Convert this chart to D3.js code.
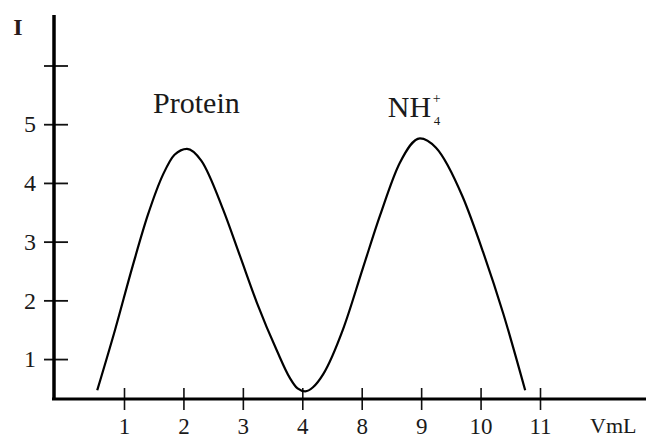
<!DOCTYPE html>
<html>
<head>
<meta charset="utf-8">
<script src="https://cdn.jsdelivr.net/npm/d3@7"></script>
<style>
  body { margin: 0; background: #fff; }
  text { font-family: "Liberation Serif", "Times New Roman", serif; fill: #1a1a1a; }
</style>
</head>
<body>
<div id="chart"></div>
<script>
// tick labels on the x axis (elution volume, not evenly valued)
var xLabels = ["1", "2", "3", "4", "8", "9", "10", "11"];
var yTicks = [1, 2, 3, 4, 5, 6];
var yLabels = ["1", "2", "3", "4", "5", ""];

// curve: position along the x ticks (1 = first tick) and intensity
var curvePos = [0.55, 0.85, 1.15, 1.40, 1.66, 1.85, 2.06, 2.30, 2.67, 2.95, 3.24, 3.57, 3.79, 3.92, 4.05, 4.18,
                4.35, 4.69, 5.02, 5.31, 5.64, 5.98, 6.25, 6.70, 7.04, 7.38, 7.75];
var curveVal = [0.47, 1.50, 2.60, 3.45, 4.15, 4.48, 4.58, 4.38, 3.54, 2.76, 1.95, 1.15, 0.68, 0.50, 0.45, 0.52,
                0.74, 1.52, 2.55, 3.45, 4.34, 4.76, 4.60, 3.76, 2.83, 1.78, 0.47];

var width = 646, height = 438;

var svg = d3.select("#chart").append("svg")
    .attr("width", width)
    .attr("height", height);

// scales
var x = d3.scaleLinear().domain([1, 8]).range([124, 540]);
var y = d3.scaleLinear().domain([0.32, 6.86]).range([399, 15]);

var axisX = 54, axisY = y(0.32);

// x axis
var gx = svg.append("g")
    .attr("transform", "translate(0," + axisY + ")")
    .call(d3.axisBottom(x)
      .tickValues(d3.range(1, xLabels.length + 1))
      .tickFormat(function(d, i) { return xLabels[i]; })
      .tickSize(11)
      .tickPadding(11));
gx.select(".domain").remove();
gx.selectAll(".tick line")
    .attr("y1", -11).attr("y2", 11)
    .attr("stroke", "#111").attr("stroke-width", 1.6);
gx.selectAll(".tick text")
    .attr("font-size", 23)
    .attr("font-family", "Liberation Serif, serif")
    .attr("fill", "#1a1a1a")
    .attr("dy", "0.55em");

svg.append("line")
    .attr("x1", axisX - 2).attr("x2", width)
    .attr("y1", axisY).attr("y2", axisY)
    .attr("stroke", "#000").attr("stroke-width", 3);

// y axis
var gy = svg.append("g")
    .attr("transform", "translate(" + axisX + ",0)")
    .call(d3.axisLeft(y)
      .tickValues(yTicks)
      .tickFormat(function(d, i) { return yLabels[i]; })
      .tickSize(10)
      .tickPadding(8));
gy.select(".domain").remove();
gy.selectAll(".tick line")
    .attr("x1", -10).attr("x2", 14)
    .attr("stroke", "#111").attr("stroke-width", 1.8);
gy.selectAll(".tick text")
    .attr("font-size", 24)
    .attr("font-family", "Liberation Serif, serif")
    .attr("fill", "#1a1a1a");

svg.append("line")
    .attr("x1", axisX).attr("x2", axisX)
    .attr("y1", y(6.86)).attr("y2", axisY + 1)
    .attr("stroke", "#000").attr("stroke-width", 3.5);

// the elution curve
var line = d3.line()
    .x(function(d, i) { return x(curvePos[i]); })
    .y(function(d) { return y(d); })
    .curve(d3.curveMonotoneX);

svg.append("path")
    .datum(curveVal)
    .attr("d", line)
    .attr("fill", "none")
    .attr("stroke", "#000")
    .attr("stroke-width", 2.2);

// axis titles
svg.append("text")
    .attr("x", 18).attr("y", 35)
    .attr("text-anchor", "middle")
    .attr("font-size", 24)
    .attr("font-weight", "bold")
    .style("fill", "#2a1a1a")
    .text("I");

svg.append("text")
    .attr("x", 590).attr("y", 433)
    .attr("font-size", 22)
    .text("VmL");

// peak labels
svg.append("text")
    .attr("x", x(1.49)).attr("y", y(5.19))
    .attr("font-size", 30)
    .text("Protein");

var nh = svg.append("text")
    .attr("x", x(5.44)).attr("y", y(5.12))
    .attr("font-size", 30);
nh.append("tspan").text("NH");
nh.append("tspan")
    .attr("x", x(5.44) + 45).attr("y", y(5.12) - 14)
    .attr("font-size", 14)
    .text("+");
nh.append("tspan")
    .attr("x", x(5.44) + 46).attr("y", y(5.12) + 8)
    .attr("font-size", 13)
    .text("4");
</script>
</body>
</html>
